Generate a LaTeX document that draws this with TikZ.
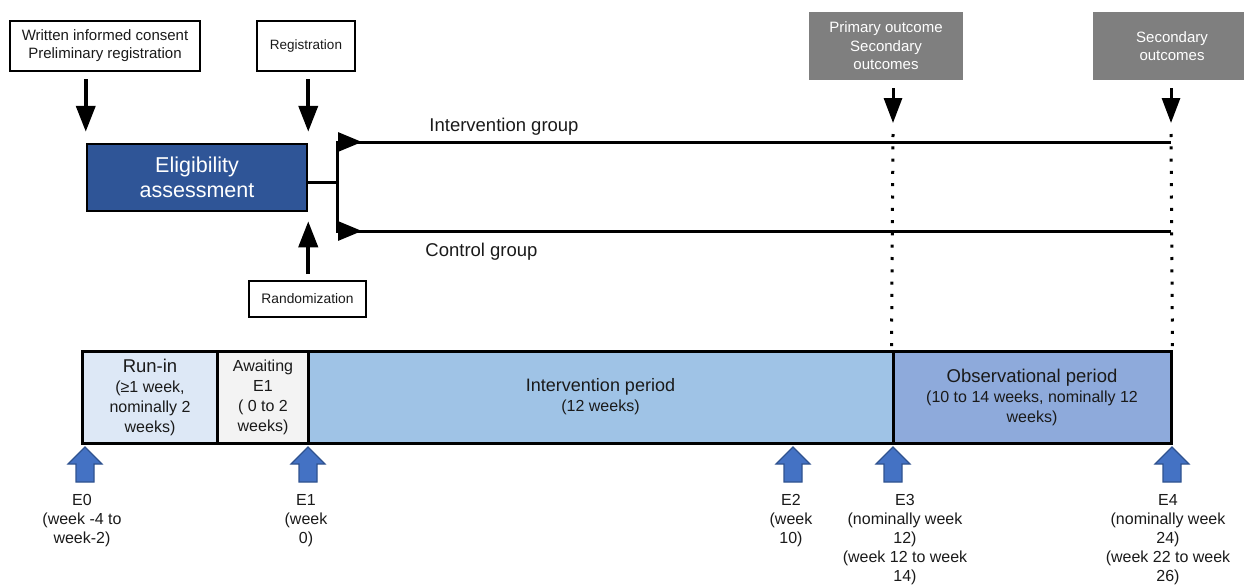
\documentclass[tikz,border=0pt]{standalone}
\usepackage{fontspec}
\setmainfont{Liberation Sans}
\usetikzlibrary{arrows.meta}
\definecolor{eligblue}{HTML}{2F5597}
\definecolor{outgray}{HTML}{7F7F7F}
\definecolor{runinc}{HTML}{DDE8F6}
\definecolor{awaitc}{HTML}{F3F3F3}
\definecolor{intervc}{HTML}{9FC3E6}
\definecolor{obsc}{HTML}{8EAADB}
\definecolor{arrblue}{HTML}{4472C4}
\definecolor{arrborder}{HTML}{2F528F}
\definecolor{txt}{HTML}{1A1A1A}
\begin{document}
\begin{tikzpicture}[x=1pt,y=-1pt,
  wbox/.style={draw=black, line width=2pt, fill=white, inner sep=0pt, align=center, text=txt, font=\fontsize{15}{18}\selectfont},
  gbox/.style={fill=outgray, text=white, inner sep=0pt, align=center, font=\fontsize{15}{18.5}\selectfont},
  seg/.style={draw=black, line width=3pt, inner sep=0pt, align=center, text=txt, minimum height=92pt, font=\fontsize{16}{20}\selectfont},
  bigarrow/.style={line width=4pt, -{Triangle[width=19pt,length=26pt]}},
  outarrow/.style={line width=3pt, -{Triangle[width=18pt,length=25pt]}},
  grpline/.style={line width=3pt},
  grphead/.style={line width=3pt, -{Triangle[width=19pt,length=24pt]}},
  dotline/.style={line width=3pt, dash pattern=on 3pt off 9.3pt},
  elabel/.style={anchor=north, inner sep=0pt, align=center, text=txt, font=\fontsize{16}{19}\selectfont},
  grplabel/.style={anchor=base, inner sep=0pt, text=txt, font=\fontsize{18.5}{22}\selectfont},
  blockstyle/.style={fill=arrblue, draw=arrborder, line width=1.2pt, line join=miter},
  blockup/.pic={\path[blockstyle] (0,0) -- (17,17) -- (9,17) -- (9,35) -- (-9,35) -- (-9,17) -- (-17,17) -- cycle;}
]
\useasboundingbox (0,0) rectangle (1244,587);

% top boxes
\node[wbox, minimum width=190pt, minimum height=50pt] (consent) at (105,46) {Written informed consent\\Preliminary registration};
\node[wbox, font=\fontsize{13.5}{16}\selectfont, minimum width=98pt, minimum height=50pt] (reg) at (306,46) {Registration};
\node[wbox, font=\fontsize{13.8}{16}\selectfont, minimum width=117pt, minimum height=36pt] (rand) at (307.5,299) {Randomization};
\node[draw=black, line width=2.5pt, fill=eligblue, text=white, align=center, inner sep=0pt,
      font=\fontsize{21.5}{25}\selectfont, minimum width=220pt, minimum height=67pt] (elig) at (197,177.5) {Eligibility\\assessment};

\node[gbox, minimum width=154pt, minimum height=68pt] (prim) at (886,46) {Primary outcome\\Secondary\\outcomes};
\node[gbox, minimum width=158pt, minimum height=68pt] (sec) at (1172,46) {Secondary\\outcomes};

% timeline
\node[seg, fill=runinc, minimum width=135pt] (runin) at (150,397) {{\fontsize{18.5}{20}\selectfont Run-in}\\(≥1 week,\\nominally 2\\weeks)};
\node[seg, fill=awaitc, minimum width=91pt] (await) at (263,397) {Awaiting\\E1\\( 0 to 2\\weeks)};
\node[seg, fill=intervc, minimum width=585pt] (interv) at (600.5,397) {{\fontsize{18}{21}\selectfont Intervention period}\\(12 weeks)};
\node[seg, fill=obsc, minimum width=278pt] (obs) at (1032,397) {{\fontsize{18.5}{21}\selectfont Observational period}\\(10 to 14 weeks, nominally 12\\weeks)};

% arrows into eligibility
\draw[bigarrow, shorten <=7pt, shorten >=11pt] (consent.south -| elig.north west) -- (elig.north west);
\draw[bigarrow, shorten <=7pt, shorten >=11pt] (reg.south -| elig.north east) -- (elig.north east);
\draw[bigarrow, shorten <=6pt, shorten >=9pt] (rand.north -| elig.south east) -- (elig.south east);

% branch
\coordinate (split) at (337,182);
\coordinate (igs) at (337,142);
\coordinate (cgs) at (337,231);
\coordinate (igh) at (362,142);
\coordinate (cgh) at (362,231);
\coordinate (ot1) at (893,134);
\coordinate (ot2) at (1171,134);
\draw[grpline] (elig.east |- split) -- (split);
\draw[grpline, line cap=rect] (igs) -- (cgs);
\draw[grpline] (igs) -- (igs -| ot2);
\draw[grpline] (cgs) -- (cgs -| ot2);
\draw[grphead] (igs) -- (igh);
\draw[grphead] (cgs) -- (cgh);

\node[grplabel] (igl) at (504,131) {Intervention group};
\node[grplabel] (cgl) at (481.5,256) {Control group};

% outcome arrows and dotted lines
\draw[outarrow, shorten <=8pt, shorten >=11pt] (prim.south -| ot1) -- (ot1);
\draw[outarrow, shorten <=8pt, shorten >=11pt] (sec.south -| ot2) -- (ot2);
\draw[dotline] (ot1) -- (obs.north west);
\draw[dotline] (ot2) -- (obs.north east);

% block arrows
\pic (b0) at (85,447) {blockup};
\pic (b1) at (308,447) {blockup};
\pic (b2) at (793,447) {blockup};
\pic (b3) at (893,447) {blockup};
\pic (b4) at (1172,447) {blockup};

% evaluation labels
\node[elabel] (l0) at (82,494.5) {E0\\(week -4 to\\week-2)};
\node[elabel] (l1) at (306,494.5) {E1\\(week\\0)};
\node[elabel] (l2) at (791,494.5) {E2\\(week\\10)};
\node[elabel] (l3) at (905,494.5) {E3\\(nominally week\\12)\\(week 12 to week\\14)};
\node[elabel] (l4) at (1168,494.5) {E4\\(nominally week\\24)\\(week 22 to week\\26)};
\end{tikzpicture}
\end{document}
